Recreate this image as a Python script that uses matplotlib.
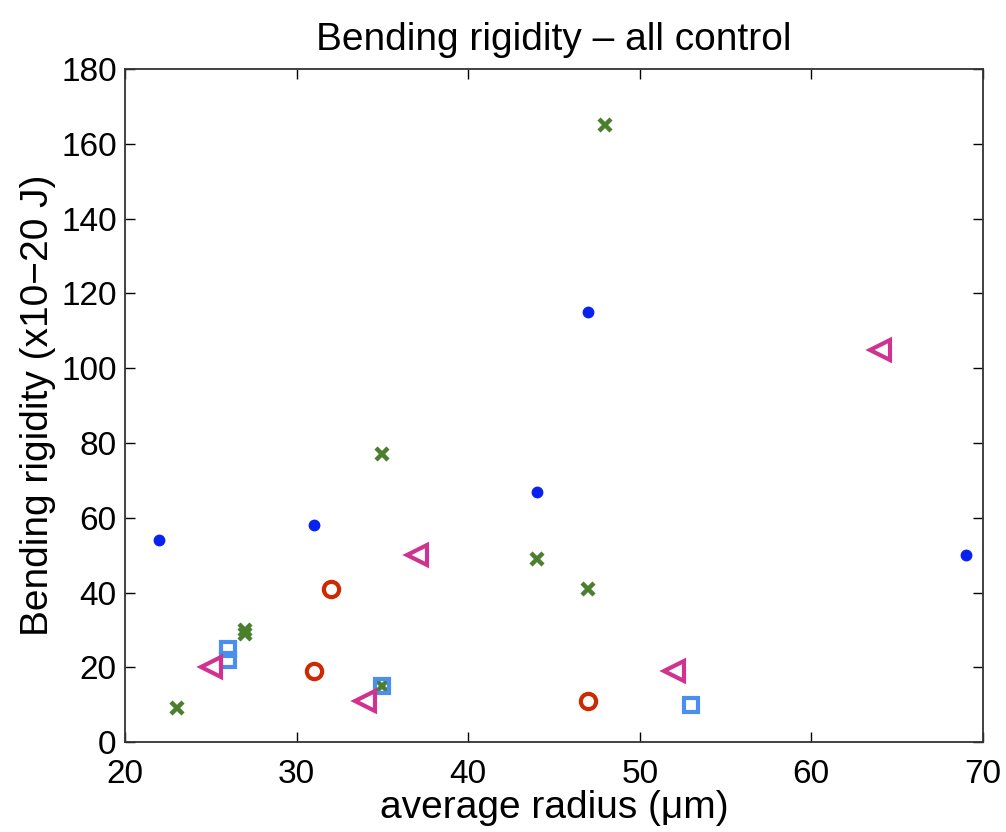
import matplotlib
matplotlib.use("Agg")
from matplotlib import pyplot as plt

plt.rcParams['font.family'] = ['Liberation Sans', 'DejaVu Sans']

# data
dot_x = [22, 31, 44, 47, 69]
dot_y = [54, 58, 67, 115, 50]
cross_x = [23, 27, 27, 35, 35, 44, 47, 48]
cross_y = [9, 30, 29, 77, 15, 49, 41, 165]
circ_x = [32, 31, 47]
circ_y = [41, 19, 11]
sq_x = [26, 26, 35, 53]
sq_y = [25, 22, 15, 10]
tri_x = [25, 34, 37, 52, 64]
tri_y = [20, 11, 50, 19, 105]

fig = plt.figure(figsize=(10.06, 8.32), dpi=100)
ax = fig.add_axes([0.1243, 0.108, 0.8527, 0.809])

ax.plot(dot_x, dot_y, 'o', color='#0a22f0', markersize=7.5, linestyle='none')
ax.plot(cross_x, cross_y, 'x', color='#4a7f2e', markersize=8, markeredgewidth=3.2, linestyle='none')
ax.plot(circ_x, circ_y, 'o', markerfacecolor='none', markeredgecolor='#cc2a00',
        markersize=11, markeredgewidth=3, linestyle='none')
ax.plot(sq_x, sq_y, 's', markerfacecolor='none', markeredgecolor='#4a8ef0',
        markersize=10, markeredgewidth=3, linestyle='none')
ax.plot(tri_x, tri_y, '<', markerfacecolor='none', markeredgecolor='#d0338f',
        markersize=14, markeredgewidth=3, linestyle='none')

ax.set_xlim(20, 70)
ax.set_ylim(0, 180)
ax.set_xticks(range(20, 71, 10))
ax.set_yticks(range(0, 181, 20))
ax.tick_params(direction='in', top=True, right=True, length=7, width=1,
               labelsize=24)
ax.tick_params(axis='x', pad=12)
ax.tick_params(axis='y', pad=6)
for s in ax.spines.values():
    s.set_linewidth(1.3)
    s.set_color('#333333')

ax.set_title("Bending rigidity \u2013 all control", fontsize=28, pad=14)
ax.set_xlabel("average radius (\u03bcm)", fontsize=28, labelpad=0)
ax.set_ylabel("Bending rigidity (x10\u221220 J)", fontsize=28, labelpad=4)

fig.savefig("out.png", dpi=100)
